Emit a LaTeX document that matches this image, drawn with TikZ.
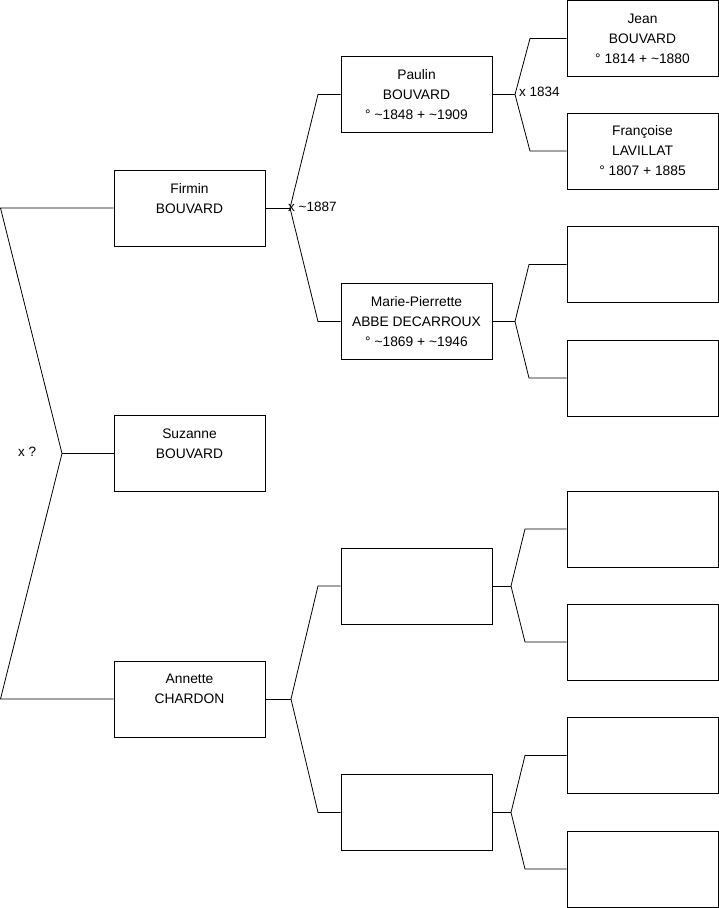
\documentclass[tikz,border=0pt]{standalone}
\usepackage{fontspec}
\setmainfont{Liberation Sans}
\begin{document}
\begin{tikzpicture}[x=1pt,y=-1pt,
  box/.style={draw=black,line width=0.9pt,minimum width=151pt,minimum height=76pt,inner sep=0pt,
    align=center,font=\fontsize{13.8}{20}\selectfont,anchor=center},
  lbl/.style={font=\fontsize{13.5}{16}\selectfont,inner sep=0pt,anchor=west},
  conn/.style={draw=black,line width=0.8pt}]
\useasboundingbox (0,0) rectangle (719,908);
% generation 1
\node[box] (firmin) at (189.5,208) {Firmin\\BOUVARD\\\mbox{}};
\node[box] (suzanne) at (189.5,453.5) {Suzanne\\BOUVARD\\\mbox{}};
\node[box] (annette) at (189.5,699) {Annette\\CHARDON\\\mbox{}};
% generation 2
\node[box] (paulin) at (416.5,94.5) {Paulin\\BOUVARD\\° \textasciitilde1848 + \textasciitilde1909};
\node[box] (marie) at (416.5,321.5) {Marie-Pierrette\\ABBE DECARROUX\\° \textasciitilde1869 + \textasciitilde1946};
\node[box] (e21) at (416.5,586) {};
\node[box] (e22) at (416.5,812.5) {};
% generation 3
\node[box] (jean) at (642.5,38.5) {Jean\\BOUVARD\\° 1814 + \textasciitilde1880};
\node[box] (francoise) at (642.5,151) {Françoise\\LAVILLAT\\° 1807 + 1885};
\node[box] (e31) at (642.5,264.5) {};
\node[box] (e32) at (642.5,378) {};
\node[box] (e33) at (642.5,529) {};
\node[box] (e34) at (642.5,642) {};
\node[box] (e35) at (642.5,755.5) {};
\node[box] (e36) at (642.5,869) {};
% fork coordinates
\coordinate (tl) at (0.5,208);
\coordinate (bl) at (0.5,699);
\coordinate (f0) at (62,453.5);
\coordinate (fF) at (290,208);
\coordinate (fFu) at (318,94.5);
\coordinate (fFd) at (318,321.5);
\coordinate (fA) at (291,699);
\coordinate (fAu) at (318,586);
\coordinate (fAd) at (318,812.5);
\coordinate (fP) at (515,94.5);
\coordinate (fPu) at (530,38.5);
\coordinate (fPd) at (530,151);
\coordinate (fM) at (515,321.5);
\coordinate (fMu) at (529,264.5);
\coordinate (fMd) at (529,378);
\coordinate (fE1) at (511,586);
\coordinate (fE1u) at (525,529);
\coordinate (fE1d) at (525,642);
\coordinate (fE2) at (511,812.5);
\coordinate (fE2u) at (525,755.5);
\coordinate (fE2d) at (525,869);
% connectors
\draw[conn] (firmin.west) -- (tl) -- (f0) -- (bl) -- (annette.west);
\draw[conn] (suzanne.west) -- (f0);
\draw[conn] (paulin.west) -- (fFu) -- (fF) -- (fFd) -- (marie.west);
\draw[conn] (firmin.east) -- (fF);
\draw[conn] (e21.west) -- (fAu) -- (fA) -- (fAd) -- (e22.west);
\draw[conn] (annette.east) -- (fA);
\draw[conn] (jean.west) -- (fPu) -- (fP) -- (fPd) -- (francoise.west);
\draw[conn] (paulin.east) -- (fP);
\draw[conn] (e31.west) -- (fMu) -- (fM) -- (fMd) -- (e32.west);
\draw[conn] (marie.east) -- (fM);
\draw[conn] (e33.west) -- (fE1u) -- (fE1) -- (fE1d) -- (e34.west);
\draw[conn] (e21.east) -- (fE1);
\draw[conn] (e35.west) -- (fE2u) -- (fE2) -- (fE2d) -- (e36.west);
\draw[conn] (e22.east) -- (fE2);
% marriage labels
\node[lbl] (m0) at (18,452) {x ?};
\node[lbl] (m1) at (288,207) {x \textasciitilde1887};
\node[lbl] (m2) at (519,92) {x 1834};
\end{tikzpicture}
\end{document}
